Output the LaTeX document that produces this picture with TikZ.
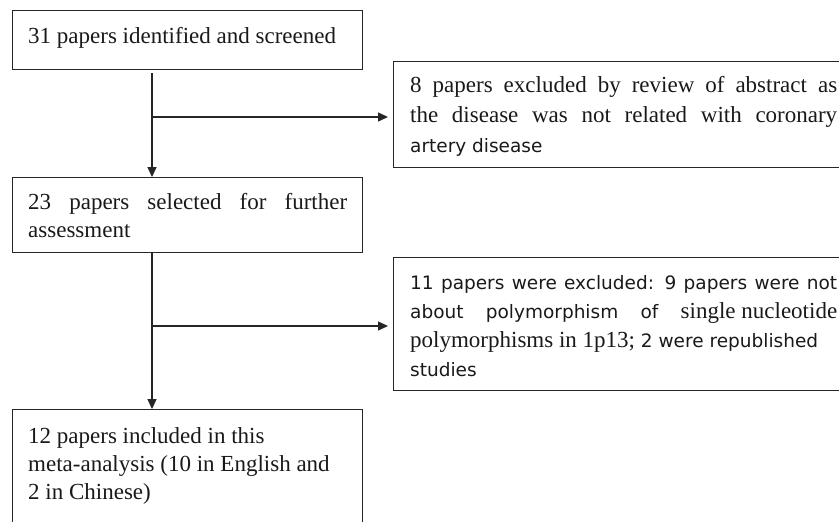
\documentclass[tikz,border=0pt]{standalone}
\usepackage{fontspec}
\setmainfont{Liberation Serif}
\newfontfamily\sansf{DejaVu Sans}
\usetikzlibrary{arrows.meta}
\newcommand\serfs{\fontsize{23}{30}\selectfont}
\newcommand\serif{\rmfamily\fontsize{23}{29.3}\selectfont}
\newcommand\sanf{\sansf\fontsize{18.5}{29.3}\selectfont}
\tikzset{
  box/.style={draw=black!85, line width=1.3pt, inner sep=0pt, anchor=north west},
  txt/.style={anchor=base west, inner sep=0pt, text=black!90},
  arr/.style={draw=black!85, line width=1.3pt, -{Triangle[length=10pt,width=9pt]}},
}
\begin{document}
\begin{tikzpicture}[x=1pt,y=-1pt]
\useasboundingbox (0,0) rectangle (839,522);
\clip (0,0) rectangle (839,522);
% boxes
\node[box, minimum width=350pt, minimum height=59pt] (b1) at (12,10) {};
\node[box, minimum width=457pt, minimum height=106pt] (b2) at (393,61) {};
\node[box, minimum width=350pt, minimum height=75pt] (b3) at (12,177) {};
\node[box, minimum width=457pt, minimum height=133pt] (b4) at (393,257) {};
\node[box, minimum width=350pt, minimum height=131pt] (b5) at (12,409) {};
% texts
\node[txt] (t1) at (28,43) {\serfs 31 papers identified and screened};
\node[txt] (t2) at (410,92) {\parbox[t]{427pt}{\fontsize{23}{30.5}\selectfont
  \makebox[\linewidth][s]{8 papers excluded by review of abstract as}\\
  \makebox[\linewidth][s]{the disease was not related with coronary}\\
  {\sansf\fontsize{18.5}{30.5}\selectfont artery disease}}};
\node[txt] (t3) at (28,209) {\parbox[t]{319pt}{\fontsize{23}{28}\selectfont
  \makebox[\linewidth][s]{23 papers selected for further}\\
  assessment}};
\node[txt] (t4) at (410,289) {\parbox[t]{427pt}{\sanf
  \makebox[\linewidth][s]{11 papers were excluded: 9 papers were not}\\
  \hbox to \linewidth{about\hfill polymorphism\hfill of\hfill {\serif single nucleotide}}\\
  {\serif polymorphisms in 1p13;} 2 were republished\\
  studies}};
\node[txt] (t5) at (28,443) {\parbox[t]{330pt}{\fontsize{23}{28}\selectfont
  12 papers included in this\\
  meta-analysis (10 in English and\\
  2 in Chinese)}};
% connectors
\coordinate (j1) at (152,117);
\coordinate (j2) at (152,326);
\draw[arr, shorten <=3pt] (b1.south -| j1) -- (b3.north -| j1);
\draw[arr, shorten >=5pt] (j1) -- (j1 -| b2.west);
\draw[arr] (b3.south -| j2) -- (b5.north -| j2);
\draw[arr, shorten >=5pt] (j2) -- (j2 -| b4.west);
\end{tikzpicture}
\end{document}
